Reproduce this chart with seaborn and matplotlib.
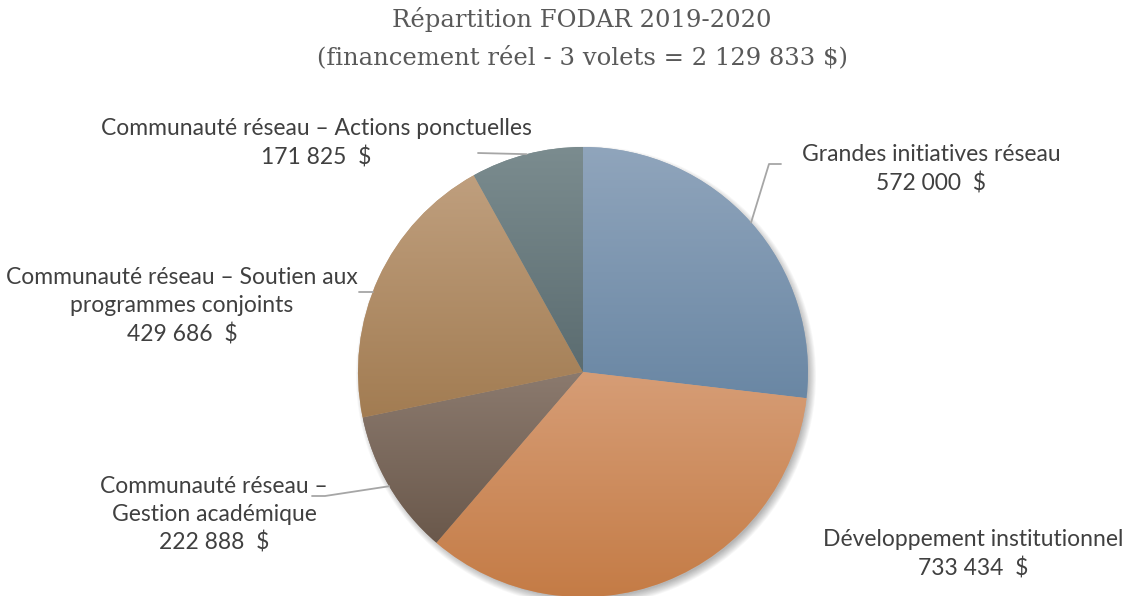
import numpy as np
import matplotlib
matplotlib.use("Agg")
import matplotlib.pyplot as plt
import seaborn as sns
from matplotlib.colors import LinearSegmentedColormap
from matplotlib.patches import Circle

# ---------------- data ----------------
categories = [
    "Grandes initiatives réseau",
    "Développement institutionnel",
    "Communauté réseau –\nGestion académique",
    "Communauté réseau – Soutien aux\nprogrammes conjoints",
    "Communauté réseau – Actions ponctuelles",
]
values = [572000, 733434, 222888, 429686, 171825]
title_lines = ["Répartition FODAR 2019-2020",
               "(financement réel - 3 volets = 2 129 833 $)"]

# ---------------- styles ----------------
top_colors = ["#90A5BC", "#D69D76", "#8B7A6E", "#BF9F7E", "#7B8C8F"]
bottom_colors = ["#6A87A4", "#C47B45", "#6A584B", "#A27C52", "#5B6C70"]

sns.set_theme(style="white")
plt.rcParams["font.family"] = ["Lato", "DejaVu Sans"]

W, H = 1129, 596
fig = plt.figure(figsize=(W / 100, H / 100), dpi=100)
ax = fig.add_axes([0, 0, 1, 1])

def fy(y):
    return H - y

cx, cy, R = 583, fy(372), 225

# soft shadow
for i in range(10):
    ax.add_patch(Circle((cx + 3, cy - 4), R + 5 - i * 0.9, color="black",
                        alpha=0.03, lw=0, zorder=0))

wedges, _ = ax.pie(values, startangle=90, counterclock=False,
                   center=(cx, cy), radius=R, colors=top_colors,
                   wedgeprops=dict(linewidth=0), frame=True)

grad = np.linspace(0, 1, 256).reshape(-1, 1)
for w, ct, cb in zip(wedges, top_colors, bottom_colors):
    v = w.get_path().vertices
    x0, y0 = v.min(axis=0)
    x1, y1 = v.max(axis=0)
    cmap = LinearSegmentedColormap.from_list("g", [cb, ct])
    im = ax.imshow(grad, cmap=cmap, origin="lower", aspect="auto",
                   extent=(x0, x1, y0, y1), zorder=2, interpolation="bilinear")
    im.set_clip_path(w)

def arc_point(w):
    mid = np.deg2rad((w.theta1 + w.theta2) / 2)
    return cx + R * np.cos(mid), cy + R * np.sin(mid)

lc = "#A6A6A6"
lw = 1.3
# Grandes initiatives
px, py = arc_point(wedges[0])
ax.plot([px, 769, 781], [py, fy(164), fy(164)], color=lc, lw=lw, zorder=3)
# Gestion académique
px, py = arc_point(wedges[2])
ax.plot([px, 325, 312], [py, fy(496), fy(496)], color=lc, lw=lw, zorder=3)
# Soutien
yy = fy(292)
xe = cx - np.sqrt(R**2 - (yy - cy) ** 2)
ax.plot([xe, 359], [yy, yy], color=lc, lw=lw, zorder=3)
# Actions
px, py = arc_point(wedges[4])
ax.plot([px, 478], [py, fy(153)], color=lc, lw=lw, zorder=3)

def money(v):
    return f"{v:,}".replace(",", " ") + "  $"

label_pos = [(931, 169), (973, 554), (214, 515), (182, 306), (316, 143)]
for cat, v, (x, y) in zip(categories, values, label_pos):
    ax.text(x, fy(y), cat + "\n" + money(v), ha="center", va="center",
            fontsize=16.5, color="#404040", linespacing=1.4, zorder=4)

ax.text(582, fy(38), "\n".join(title_lines), ha="center", va="center",
        fontsize=17.5, color="#595959", family=["DejaVu Serif"],
        linespacing=1.7)

ax.set_xlim(0, W)
ax.set_ylim(0, H)
ax.set_aspect("equal")
ax.axis("off")
fig.savefig("out.png", dpi=100, facecolor="white")
